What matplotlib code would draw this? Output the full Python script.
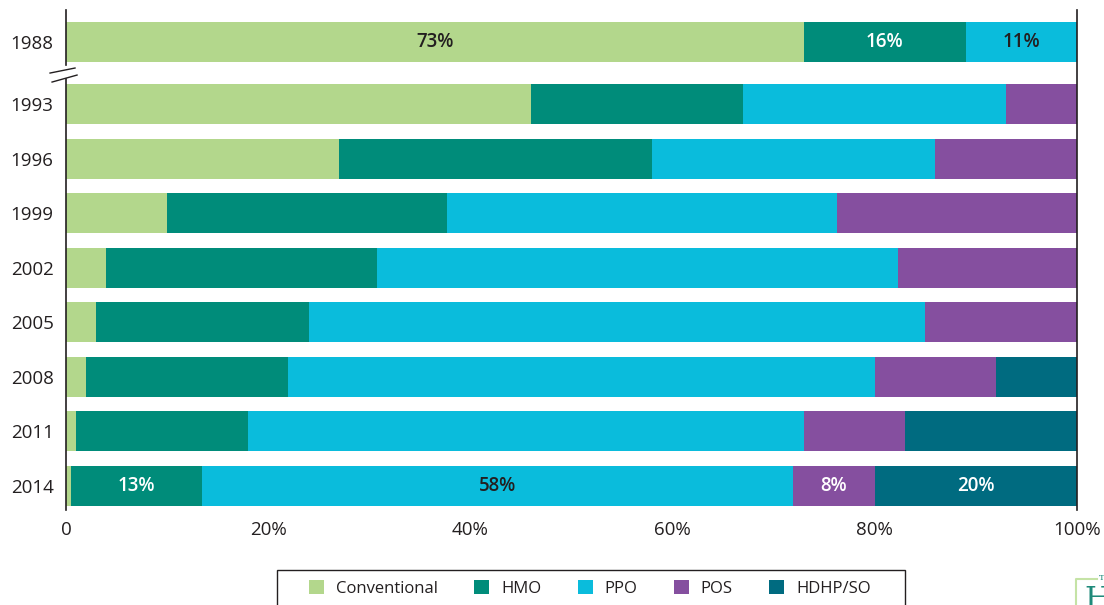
import numpy as np
from matplotlib import pyplot as plt
from matplotlib.lines import Line2D
from matplotlib.patches import Patch, Rectangle

plt.rcParams['font.family'] = ['Open Sans', 'DejaVu Sans']

years = ['1988', '1993', '1996', '1999', '2002', '2005', '2008', '2011', '2014']
conventional = [73, 46, 27, 10, 4, 3, 2, 1, 0.5]
hmo = [16, 21, 31, 27.7, 26.8, 21, 20, 17, 13]
ppo = [11, 26, 28, 38.6, 51.5, 61, 58, 55, 58.4]
pos = [0, 7, 14, 23.7, 17.7, 15, 12, 10, 8.1]
hdhp = [0, 0, 0, 0, 0, 0, 8, 17, 20]

series_names = ['Conventional', 'HMO', 'PPO', 'POS', 'HDHP/SO']
colors = ['#b3d78c', '#008c7a', '#0abcdc', '#854f9f', '#006b80']

# labels shown in the bars: (year index, series index, text, text colour)
bar_labels = [
    (0, 0, '73%', '#231f20'),
    (0, 1, '16%', 'white'),
    (0, 2, '11%', '#231f20'),
    (8, 1, '13%', 'white'),
    (8, 2, '58%', '#231f20'),
    (8, 3, '8%', 'white'),
    (8, 4, '20%', 'white'),
]

TXT = '#231f20'
W, H = 1104, 605

# 1988 sits a bit further up because of the axis break
ypos = np.array([0.0] + [1.14 + i for i in range(len(years) - 1)])

fig = plt.figure(figsize=(W / 100, H / 100), dpi=100)
ax = fig.add_axes([0.0598, 0.157, 0.9157, 0.8265])

data = np.array([conventional, hmo, ppo, pos, hdhp])
left = np.zeros(len(years))
for vals, name, col in zip(data, series_names, colors):
    ax.barh(ypos, vals, left=left, height=0.734, color=col, label=name)
    left = left + vals

cum = np.vstack([np.zeros(len(years)), np.cumsum(data, axis=0)])
for yi, si, txt, tc in bar_labels:
    xc = (cum[si, yi] + cum[si + 1, yi]) / 2
    ax.text(xc, ypos[yi], txt, ha='center', va='center', color=tc,
            fontsize=13.5, fontweight='semibold')

ax.set_xlim(0, 100)
ax.set_ylim(8.58, -0.587)
ax.set_yticks(ypos)
ax.set_yticklabels(years)
ax.set_xticks([0, 20, 40, 60, 80, 100])
ax.set_xticklabels(['0', '20%', '40%', '60%', '80%', '100%'])
ax.tick_params(axis='both', length=0, labelsize=13.5, colors=TXT)
ax.tick_params(axis='y', pad=9)
ax.tick_params(axis='x', pad=8)

for s in ['top', 'bottom', 'left']:
    ax.spines[s].set_visible(False)
ax.spines['right'].set_color(TXT)
ax.spines['right'].set_linewidth(1.2)

# left axis drawn in two pieces with a break mark
trans = ax.get_yaxis_transform()
ax.add_line(Line2D([0, 0], [-0.587, 0.42], transform=trans, color=TXT,
                   lw=1.2, clip_on=False))
ax.add_line(Line2D([0, 0], [0.68, 8.58], transform=trans, color=TXT,
                   lw=1.2, clip_on=False))
ax.add_line(Line2D([-0.0158, 0.0089], [0.569, 0.477], transform=trans,
                   color=TXT, lw=1.0, clip_on=False))
ax.add_line(Line2D([-0.0138, 0.0109], [0.734, 0.606], transform=trans,
                   color=TXT, lw=1.0, clip_on=False))

# legend box runs past the bottom edge of the picture
fig.patches.append(Rectangle((277 / W, -0.05), (905 - 277) / W,
                             0.05 + 1 - 570 / H, transform=fig.transFigure,
                             facecolor='white', edgecolor=TXT, lw=1.0))
handles = [Patch(facecolor=c, edgecolor='none') for c in colors]
leg = fig.legend(handles, series_names, loc='center left',
                 bbox_to_anchor=(309 / W, 1 - 588.5 / H), ncol=5,
                 frameon=False, fontsize=12,
                 handlelength=0.9, handleheight=0.9, handletextpad=0.7,
                 columnspacing=2.2, borderpad=0, borderaxespad=0)
for t in leg.get_texts():
    t.set_color(TXT)

# corner of the publisher logo
fig.lines.append(Line2D([1076 / W, 1076 / W, 1097 / W],
                        [0, 1 - 579 / H, 1 - 579 / H],
                        transform=fig.transFigure, color='#c5e3a6', lw=1.5))
fig.text(1084 / W, -0.018, 'H', fontsize=22, color='#1f8a7a',
         family='DejaVu Serif', ha='left', va='bottom')
fig.text(1099 / W, 1 - 582 / H, 'T', fontsize=6, color='#1f8a7a',
         family='DejaVu Serif', ha='left', va='bottom')

fig.savefig('out.png', dpi=100)
